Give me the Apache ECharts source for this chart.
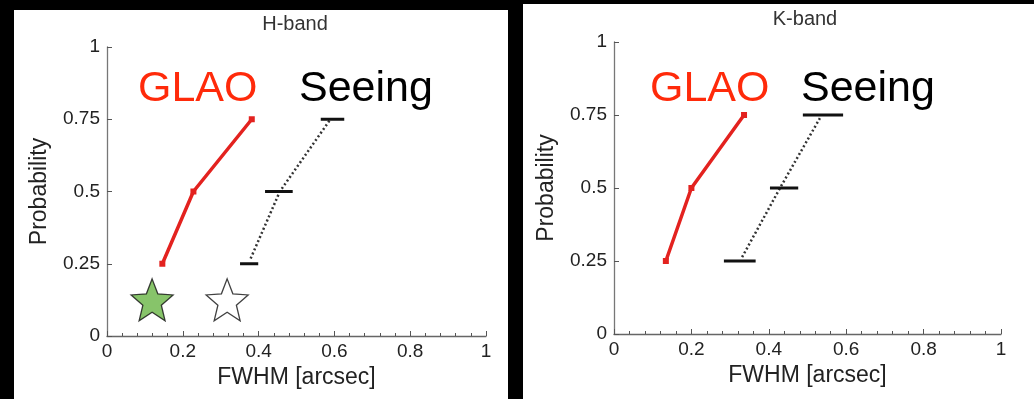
<!DOCTYPE html>
<html>
<head>
<meta charset="utf-8">
<script src="https://cdn.jsdelivr.net/npm/echarts@6/dist/echarts.min.js"></script>
<style>
  html, body { margin: 0; padding: 0; background: #000; width: 1034px; height: 399px; overflow: hidden; }
  .panel { position: absolute; background: #fff; }
</style>
</head>
<body>
<div class="panel" id="hband" style="left:14px; top:10px; width:494px; height:389px;"></div>
<div class="panel" id="kband" style="left:523px; top:4px; width:511px; height:395px;"></div>
<script>
// probability levels
const probLevels = [0.25, 0.5, 0.75];

// H-band
const hGlaoX = [0.146, 0.228, 0.382];
const hSeeingLo = [0.351, 0.417, 0.564];
const hSeeingHi = [0.399, 0.49, 0.626];
const hSeeingLineX = [0.379, 0.456, 0.588];
const hSeeingLineY = [0.268, 0.5, 0.747];
const hStarX = [0.119, 0.317];
const hStarY = [0.125, 0.125];

// K-band
const kGlaoX = [0.134, 0.2, 0.336];
const kSeeingLo = [0.284, 0.403, 0.488];
const kSeeingHi = [0.366, 0.476, 0.592];
const kSeeingLineX = [0.331, 0.429, 0.532];
const kSeeingLineY = [0.263, 0.5, 0.739];

const FONT = '"Liberation Sans", Arial, Helvetica, sans-serif';
// fat 5 point star
const STAR = 'path://M50,0 L62.93,32.2 L97.55,34.55 L70.92,56.8 L79.39,90.45 L50,72 L20.61,90.45 L29.08,56.8 L2.45,34.55 L37.07,32.2 Z';

function zip(a, b) {
    let out = [];
    for (let i = 0; i < a.length; i++) out.push([a[i], b[i]]);
    return out;
}

function makeOption(cfg) {
    let bars = [];
    for (let i = 0; i < cfg.lo.length; i++) bars.push([cfg.lo[i], cfg.hi[i], probLevels[i]]);
    let series = [
        {
            type: 'line',
            data: zip(cfg.lineX, cfg.lineY),
            symbol: 'none',
            lineStyle: { color: '#333', width: 2.5, type: [2, 2.5] },
            z: 2
        },
        {
            type: 'custom',
            data: bars,
            encode: { x: [0, 1], y: 2 },
            renderItem: function (params, api) {
                let a = api.coord([api.value(0), api.value(2)]);
                let b = api.coord([api.value(1), api.value(2)]);
                return {
                    type: 'line',
                    shape: { x1: a[0], y1: a[1], x2: b[0], y2: b[1] },
                    style: { stroke: '#111', lineWidth: 3 }
                };
            },
            z: 3
        },
        {
            type: 'line',
            data: zip(cfg.glao, probLevels),
            symbol: 'rect',
            symbolSize: 6,
            itemStyle: { color: '#e3221f' },
            lineStyle: { color: '#e3221f', width: 3.5 },
            z: 4
        }
    ];
    if (cfg.stars) {
        series.push({
            type: 'scatter',
            data: zip(cfg.stars[0], cfg.stars[1]),
            symbol: STAR,
            symbolSize: [42, 42],
            itemStyle: {
                color: function (p) { return p.dataIndex === 0 ? '#69b545' : '#ffffff'; },
                borderColor: '#111',
                borderWidth: 1.3
            },
            z: 5
        });
    }
    return {
        animation: false,
        grid: cfg.grid,
        xAxis: {
            type: 'value', min: 0, max: 1, interval: 0.2,
            name: 'FWHM [arcsec]', nameLocation: 'middle', nameGap: 24,
            nameTextStyle: { fontFamily: FONT, fontSize: 23, color: '#222' },
            axisLine: { lineStyle: { color: '#666', width: 1.3 } },
            axisTick: { inside: true, length: 5, lineStyle: { color: '#555' } },
            minorTick: { show: true, splitNumber: 5, length: 3, lineStyle: { color: '#555' } },
            axisLabel: { fontFamily: FONT, fontSize: 19, color: '#222', margin: 6 },
            splitLine: { show: false }
        },
        yAxis: {
            type: 'value', min: 0, max: 1, interval: 0.25,
            name: 'Probability', nameLocation: 'middle', nameGap: 56,
            nameTextStyle: { fontFamily: FONT, fontSize: 23, color: '#222' },
            axisLine: { show: true, lineStyle: { color: '#777', width: 1.3 } },
            axisTick: { show: true, inside: true, length: 5, lineStyle: { color: '#555' } },
            axisLabel: { fontFamily: FONT, fontSize: 19, color: '#222', margin: 7 },
            splitLine: { show: false }
        },
        graphic: [
            { type: 'text', x: cfg.title[1], y: cfg.title[2],
              style: { text: cfg.title[0], fill: '#333', font: '20px ' + FONT, textAlign: 'center', textVerticalAlign: 'middle' } },
            { type: 'text', x: cfg.glaoLbl[0], y: cfg.glaoLbl[1],
              style: { text: 'GLAO', fill: '#ff2a0a', font: '43px ' + FONT, textAlign: 'left', textVerticalAlign: 'middle' } },
            { type: 'text', x: cfg.seeLbl[0], y: cfg.seeLbl[1],
              style: { text: 'Seeing', fill: '#000', font: '43px ' + FONT, textAlign: 'left', textVerticalAlign: 'middle' } }
        ],
        series: series
    };
}

let hChart = echarts.init(document.getElementById('hband'));
hChart.setOption(makeOption({
    grid: { left: 93, top: 37, width: 379, height: 289 },
    glao: hGlaoX, lo: hSeeingLo, hi: hSeeingHi,
    lineX: hSeeingLineX, lineY: hSeeingLineY,
    stars: [hStarX, hStarY],
    title: ['H-band', 281, 14],
    glaoLbl: [124, 79], seeLbl: [285, 79]
}));

let kChart = echarts.init(document.getElementById('kband'));
kChart.setOption(makeOption({
    grid: { left: 91, top: 38, width: 387, height: 292 },
    glao: kGlaoX, lo: kSeeingLo, hi: kSeeingHi,
    lineX: kSeeingLineX, lineY: kSeeingLineY,
    title: ['K-band', 282, 15],
    glaoLbl: [127, 85], seeLbl: [278, 85]
}));
</script>
</body>
</html>
